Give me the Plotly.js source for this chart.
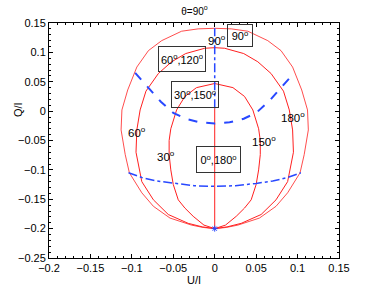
<!DOCTYPE html>
<html>
<head>
<meta charset="utf-8">
<script src="https://cdn.plot.ly/plotly-3.0.1.min.js"></script>
<style>html,body{margin:0;padding:0;background:#fff;}#chart{width:374px;height:291px;}</style>
</head>
<body>
<div id="chart"></div>
<script>
// Outer curve (90°)
var outerX = [0, -0.014, -0.028, -0.054, -0.074, -0.088, -0.103, -0.108, -0.113, -0.112, -0.105, -0.094, -0.080, -0.064, -0.040, -0.020, 0,
              0.020, 0.040, 0.064, 0.080, 0.094, 0.105, 0.112, 0.113, 0.108, 0.103, 0.088, 0.074, 0.054, 0.028, 0.014, 0];
var outerY = [-0.200, -0.198, -0.194, -0.182, -0.162, -0.139, -0.105, -0.074, -0.032, 0.002, 0.036, 0.075, 0.103, 0.120, 0.136, 0.140, 0.141,
              0.140, 0.136, 0.120, 0.103, 0.075, 0.036, 0.002, -0.032, -0.074, -0.105, -0.139, -0.162, -0.182, -0.194, -0.198, -0.200];
// Middle curve (60°,120°)
var midX = [0, -0.015, -0.032, -0.056, -0.074, -0.088, -0.095, -0.094, -0.090, -0.083, -0.068, -0.052, -0.035, -0.012, 0,
            0.012, 0.035, 0.052, 0.068, 0.083, 0.090, 0.094, 0.095, 0.088, 0.074, 0.056, 0.032, 0.015, 0];
var midY = [-0.200, -0.197, -0.191, -0.176, -0.151, -0.120, -0.070, -0.032, 0.002, 0.034, 0.064, 0.084, 0.098, 0.107, 0.108,
            0.107, 0.098, 0.084, 0.064, 0.034, 0.002, -0.032, -0.070, -0.120, -0.151, -0.176, -0.191, -0.197, -0.200];
// Inner curve (30°,150°)
var innerX = [0, -0.013, -0.026, -0.036, -0.044, -0.050, -0.053, -0.055, -0.055, -0.053, -0.046, -0.036, -0.022, 0,
              0.022, 0.036, 0.046, 0.053, 0.055, 0.055, 0.053, 0.050, 0.044, 0.036, 0.026, 0.013, 0];
var innerY = [-0.200, -0.194, -0.179, -0.165, -0.151, -0.125, -0.100, -0.074, -0.050, -0.030, 0.002, 0.025, 0.040, 0.047,
              0.040, 0.025, 0.002, -0.030, -0.050, -0.074, -0.100, -0.125, -0.151, -0.165, -0.179, -0.194, -0.200];
// Vertical line (0°,180°)
var lineX = [0, 0];
var lineY = [-0.200, 0.005];
// Blue curves
var blueUpX = [-0.096, -0.080, -0.065, -0.050, -0.035, -0.018, 0, 0.018, 0.035, 0.050, 0.065, 0.080, 0.096];
var blueUpY = [0.065, 0.040, 0.016, -0.003, -0.013, -0.019, -0.021, -0.019, -0.013, -0.003, 0.016, 0.040, 0.065];
var blueLowX = [-0.104, -0.088, -0.070, -0.050, -0.025, 0, 0.025, 0.050, 0.070, 0.088, 0.104];
var blueLowY = [-0.105, -0.113, -0.119, -0.123, -0.127, -0.128, -0.127, -0.123, -0.119, -0.113, -0.105];
var blueVertX = [0, 0];
var blueVertY = [0.005, 0.141];
var pointX = [0];
var pointY = [-0.200];

var xTicks = [-0.2, -0.15, -0.1, -0.05, 0, 0.05, 0.1, 0.15];
var xTickText = ['\u22120.2', '\u22120.15', '\u22120.1', '\u22120.05', '0', '0.05', '0.1', '0.15'];
var yTicks = [-0.25, -0.2, -0.15, -0.1, -0.05, 0, 0.05, 0.1, 0.15];
var yTickText = ['\u22120.25', '\u22120.2', '\u22120.15', '\u22120.1', '\u22120.05', '0', '0.05', '0.1', '0.15'];

var labelText = ['90<sup>o</sup>', '60<sup>o</sup>', '30<sup>o</sup>', '150<sup>o</sup>', '180<sup>o</sup>'];
var labelX = [0.003, -0.094, -0.059, 0.0595, 0.094];
var labelY = [0.1215, -0.036, -0.077, -0.0516, -0.010];
var boxText = ['90<sup>o</sup>', '60<sup>o</sup>,120<sup>o</sup>', '30<sup>o</sup>,150<sup>o</sup>', '0<sup>o</sup>,180<sup>o</sup>'];
var boxX = [0.030, -0.039, -0.0244, 0.0048];
var boxY = [0.129, 0.0889, 0.0279, -0.0819];
var boxW = [20, 42, 42, 39];
var boxH = [17, 20, 21, 21];

var red = '#ff2020';
var blue = '#2848ff';
var font = 'Liberation Sans, Arial, Helvetica, sans-serif';

var traces = [
  {x: outerX, y: outerY, mode: 'lines', line: {color: red, width: 0.8}},
  {x: midX, y: midY, mode: 'lines', line: {color: red, width: 1}},
  {x: innerX, y: innerY, mode: 'lines', line: {color: red, width: 1}},
  {x: lineX, y: lineY, mode: 'lines', line: {color: red, width: 1}},
  {x: blueUpX, y: blueUpY, mode: 'lines', line: {color: blue, width: 2, dash: 'dash'}},
  {x: blueLowX, y: blueLowY, mode: 'lines', line: {color: blue, width: 1.5, dash: 'dashdot'}},
  {x: blueVertX, y: blueVertY, mode: 'lines', line: {color: blue, width: 1.5, dash: 'dashdot'}},
  {x: pointX, y: pointY, mode: 'markers', marker: {color: blue, size: 5, symbol: 'asterisk-open', line: {color: blue, width: 1}}}
];

var annotations = [];
for (var i = 0; i < labelText.length; i++) {
  annotations.push({x: labelX[i], y: labelY[i], xref: 'x', yref: 'y', text: labelText[i], showarrow: false,
    font: {family: font, size: 11.5, color: '#000'}});
}
for (var j = 0; j < boxText.length; j++) {
  annotations.push({x: boxX[j], y: boxY[j], xref: 'x', yref: 'y', text: boxText[j], showarrow: false,
    width: boxW[j], height: boxH[j], align: 'center', valign: 'middle',
    font: {family: font, size: 11, color: '#000'}, bordercolor: '#333', borderwidth: 1, borderpad: 2});
}
annotations.push({x: -39 / 290, y: (258 - 110) / 235, xref: 'paper', yref: 'paper', text: 'Q/I', showarrow: false, textangle: -90,
  font: {family: font, size: 11, color: '#000'}});

var axisCommon = {
  showgrid: false, zeroline: false, showline: true, linecolor: '#000', linewidth: 1, mirror: 'allticks',
  ticks: 'inside', ticklen: 4, tickwidth: 1, tickcolor: '#000',
  tickfont: {family: font, size: 11, color: '#000'},
  minor: {ticks: 'inside', ticklen: 2, tickcolor: '#000', dtick: 0.01, showgrid: false},
  tickmode: 'array'
};

var layout = {
  width: 374, height: 291,
  margin: {l: 49, r: 35, t: 23, b: 33, pad: 0},
  paper_bgcolor: '#fff', plot_bgcolor: '#fff',
  showlegend: false,
  title: {text: '\u03b8=90<sup>o</sup>', font: {family: font, size: 10, color: '#000'}, x: 0.52, xanchor: 'center', y: 1 - 11 / 291, yref: 'container', yanchor: 'middle'},
  xaxis: Object.assign({}, axisCommon, {range: [-0.2, 0.15], tickvals: xTicks, ticktext: xTickText,
    title: {text: 'U/I', font: {family: font, size: 11, color: '#000'}, standoff: 0}}),
  yaxis: Object.assign({}, axisCommon, {range: [-0.25, 0.15], tickvals: yTicks, ticktext: yTickText}),
  annotations: annotations
};

Plotly.newPlot('chart', traces, layout, {staticPlot: true, displayModeBar: false});
</script>
</body>
</html>
